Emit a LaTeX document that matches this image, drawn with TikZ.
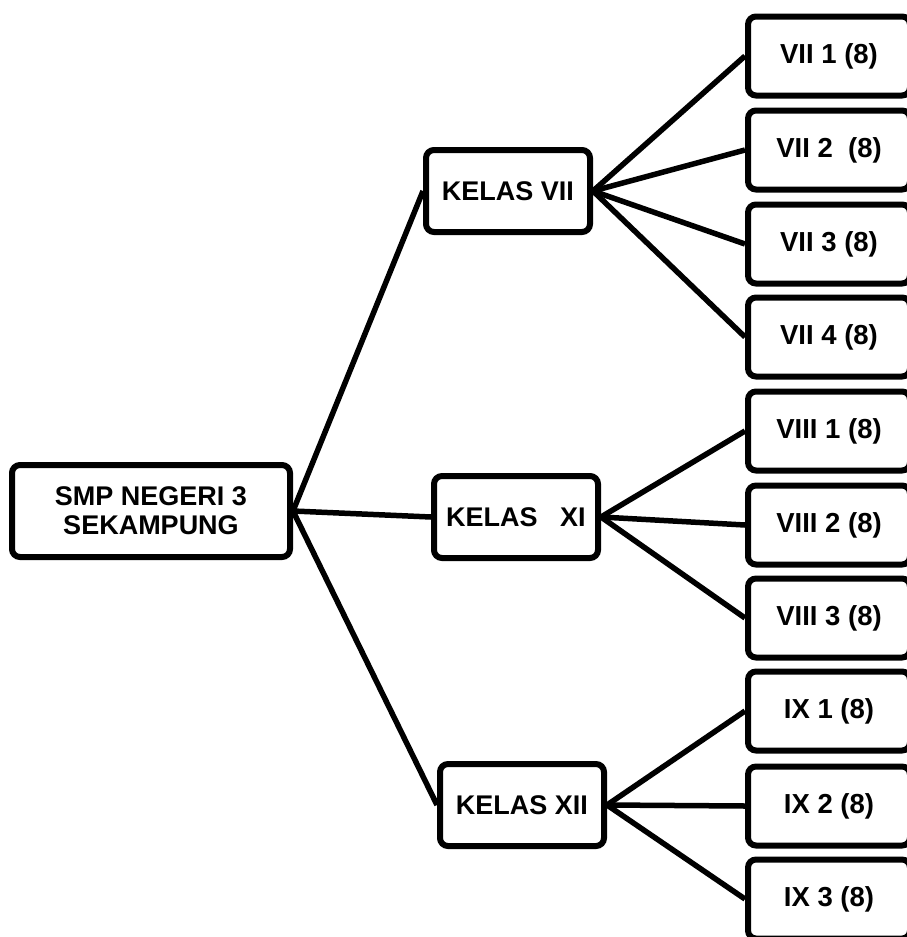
\documentclass[tikz,border=0pt]{standalone}
\usepackage{fontspec}
\setmainfont{Liberation Sans}
\usetikzlibrary{positioning}

\begin{document}
\begin{tikzpicture}[-, x = 1pt, y = -1pt,
box/.style = { rectangle, rounded corners = 8pt, draw, line width = 6pt, fill = white, align = center, inner sep = 0pt,
font = \fontsize{27}{29}\selectfont\bfseries },
rootbox/.style = { box, minimum width = 278pt, minimum height = 92pt },
levelbox/.style = { box, minimum width = 164pt, minimum height = 82pt },
classbox/.style = { box, minimum width = 162pt, minimum height = 79pt, font = \fontsize{27.5}{30}\selectfont\bfseries },
link/.style = { line width = 5.5pt, color = black }]
\useasboundingbox (0,0) rectangle (906,937);
\node[rootbox] (smp) at (151,511) {SMP NEGERI 3\\SEKAMPUNG};
\node[levelbox] (k7) at (508,191) {KELAS VII};
\node[levelbox] (k8) at (516,517) {KELAS\ \ \ XI};
\node[levelbox] (k9) at (522,805) {KELAS XII};
\node[classbox] (c71) at (829,56) {VII 1 (8)};
\node[classbox] (c72) at (829,150) {VII 2\ \ (8)};
\node[classbox] (c73) at (829,244) {VII 3 (8)};
\node[classbox] (c74) at (829,337) {VII 4 (8)};
\node[classbox] (c81) at (829,431) {VIII 1 (8)};
\node[classbox] (c82) at (829,525) {VIII 2 (8)};
\node[classbox] (c83) at (829,618) {VIII 3 (8)};
\node[classbox] (c91) at (829,711) {IX 1 (8)};
\node[classbox] (c92) at (829,806) {IX 2 (8)};
\node[classbox] (c93) at (829,899) {IX 3 (8)};
\path[link](smp.east) edge (k7.west);
\path[link](smp.east) edge (k8.west);
\path[link](smp.east) edge (k9.west);
\path[link](k7.east) edge (c71.west);
\path[link](k7.east) edge (c72.west);
\path[link](k7.east) edge (c73.west);
\path[link](k7.east) edge (c74.west);
\path[link](k8.east) edge (c81.west);
\path[link](k8.east) edge (c82.west);
\path[link](k8.east) edge (c83.west);
\path[link](k9.east) edge (c91.west);
\path[link](k9.east) edge (c92.west);
\path[link](k9.east) edge (c93.west);
\end{tikzpicture}
\end{document}
